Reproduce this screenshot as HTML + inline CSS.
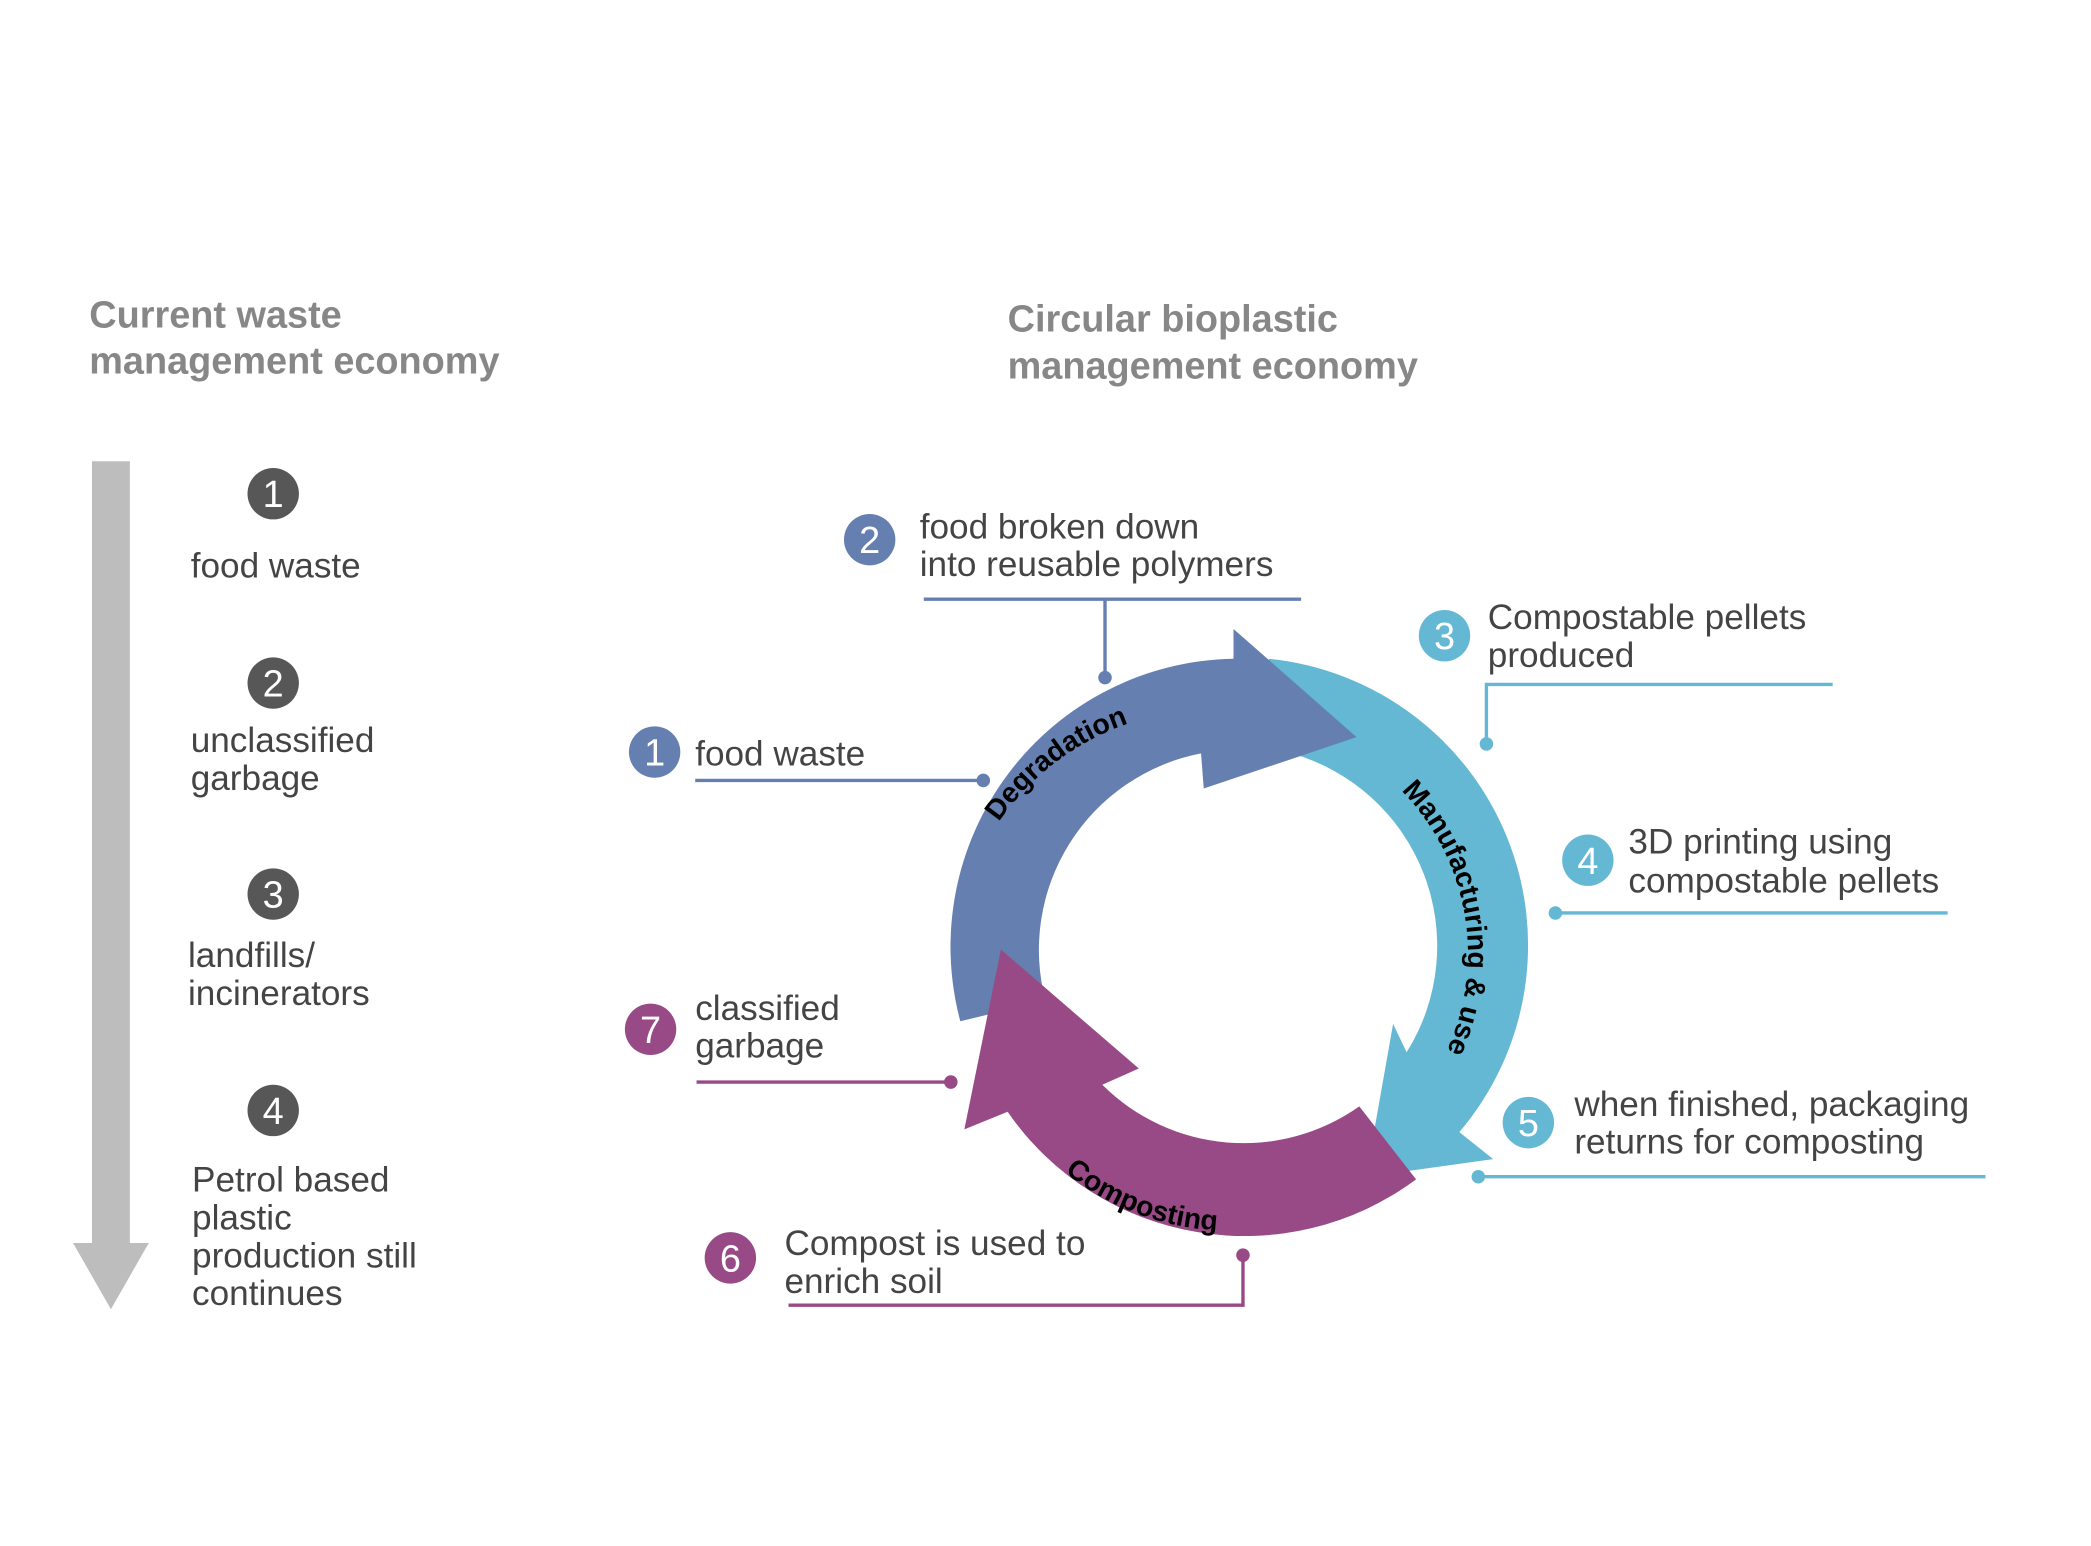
<!DOCTYPE html>
<html><head><meta charset="utf-8"><style>html,body{margin:0;padding:0;background:#fff}svg{display:block}</style></head>
<body>
<svg width="2091" height="1546" viewBox="0 0 1546 1143" xmlns="http://www.w3.org/2000/svg" font-family="Liberation Sans, Arial, sans-serif">
<rect width="1546" height="1143" fill="#fff"/>
<!-- titles -->
<g font-weight="bold" font-size="28" fill="#878787">
<text x="66" y="242">Current waste</text>
<text x="66" y="276">management economy</text>
<text x="745" y="245">Circular bioplastic</text>
<text x="745" y="280">management economy</text>
</g>
<!-- left arrow -->
<rect x="68" y="341" width="28" height="580" fill="#bcbdbc"/>
<polygon points="54,919 110,919 82,968" fill="#bcbdbc"/>
<g fill="#575757"><circle cx="202" cy="365" r="19"/><circle cx="202" cy="505" r="19"/><circle cx="202" cy="661" r="19"/><circle cx="202" cy="821" r="19"/></g>
<g fill="#fff" font-size="28" text-anchor="middle"><text x="202" y="375">1</text><text x="202" y="515">2</text><text x="202" y="671">3</text><text x="202" y="831">4</text></g>
<g fill="#444" font-size="26">
<text x="141" y="427">food waste</text>
<text x="141" y="556">unclassified</text><text x="141" y="584">garbage</text>
<text x="139" y="715">landfills/</text><text x="139" y="743">incinerators</text>
<text x="142" y="881">Petrol based</text><text x="142" y="909">plastic</text><text x="142" y="937">production still</text><text x="142" y="965">continues</text>
</g>
<!-- ring -->
<!-- light blue -->
<path d="M938,487 A213,213 0 0 1 1079,837 L1104,857 L1010,870 L1030,757 L1040,778 A148,148 0 0 0 955,557 Z" fill="#64b8d4"/>
<!-- blue -->
<path d="M710,755 A213,213 0 0 1 912,487 L912,465 L1003,545 L890,583 L888,557 A148,148 0 0 0 773,740 Z" fill="#6580b0"/>
<!-- purple -->
<path d="M1047,872 A213,213 0 0 1 745,822 L713,835 L740,702 L842,790 L815,802 A148,148 0 0 0 1005,818 Z" fill="#984a86"/>
<defs>
<path id="pd" d="M744,830 A176,176 0 0 1 1047,600"/>
<path id="pm" d="M968,542 A172,172 0 0 1 1020,840"/>
<path id="pc" d="M720,760 A195,195 0 0 0 1040,860"/>
</defs>
<g font-weight="bold" font-size="21" fill="#000">
<text><textPath href="#pd" startOffset="50%" text-anchor="middle">Degradation</textPath></text>
<text><textPath href="#pm" startOffset="50%" text-anchor="middle">Manufacturing &amp; use</textPath></text>
<text><textPath href="#pc" startOffset="47%" text-anchor="middle">Composting</textPath></text>
</g>
<!-- callouts -->
<g stroke-width="2.5" fill="none">
<path d="M683,443 H962 M817,443 V501" stroke="#6580b0"/>
<path d="M514,577 H727" stroke="#6580b0"/>
<path d="M1355,506 H1099 V550" stroke="#64b8d4"/>
<path d="M1150,675 H1440" stroke="#64b8d4"/>
<path d="M1093,870 H1468" stroke="#64b8d4"/>
<path d="M515,800 H703" stroke="#984a86"/>
<path d="M583,965 H919 V928" stroke="#984a86"/>
</g>
<g>
<circle cx="817" cy="501" r="5" fill="#6580b0"/><circle cx="727" cy="577" r="5" fill="#6580b0"/>
<circle cx="1099" cy="550" r="5" fill="#64b8d4"/><circle cx="1150" cy="675" r="5" fill="#64b8d4"/><circle cx="1093" cy="870" r="5" fill="#64b8d4"/>
<circle cx="703" cy="800" r="5" fill="#984a86"/><circle cx="919" cy="928" r="5" fill="#984a86"/>
<circle cx="643" cy="399" r="19" fill="#6580b0"/><circle cx="484" cy="556" r="19" fill="#6580b0"/>
<circle cx="1068" cy="470" r="19" fill="#64b8d4"/><circle cx="1174" cy="636" r="19" fill="#64b8d4"/><circle cx="1130" cy="830" r="19" fill="#64b8d4"/>
<circle cx="481" cy="761" r="19" fill="#984a86"/><circle cx="540" cy="930" r="19" fill="#984a86"/>
</g>
<g fill="#fff" font-size="28" text-anchor="middle">
<text x="643" y="409">2</text><text x="484" y="566">1</text><text x="1068" y="480">3</text><text x="1174" y="646">4</text><text x="1130" y="840">5</text><text x="481" y="771">7</text><text x="540" y="940">6</text>
</g>
<g fill="#444" font-size="26">
<text x="680" y="398">food broken down</text><text x="680" y="426">into reusable polymers</text>
<text x="514" y="566">food waste</text>
<text x="1100" y="465">Compostable pellets</text><text x="1100" y="493">produced</text>
<text x="1204" y="631">3D printing using</text><text x="1204" y="660">compostable pellets</text>
<text x="1164" y="825">when finished, packaging</text><text x="1164" y="853">returns for composting</text>
<text x="514" y="754">classified</text><text x="514" y="782">garbage</text>
<text x="580" y="928">Compost is used to</text><text x="580" y="956">enrich soil</text>
</g>
</svg>
</body></html>
